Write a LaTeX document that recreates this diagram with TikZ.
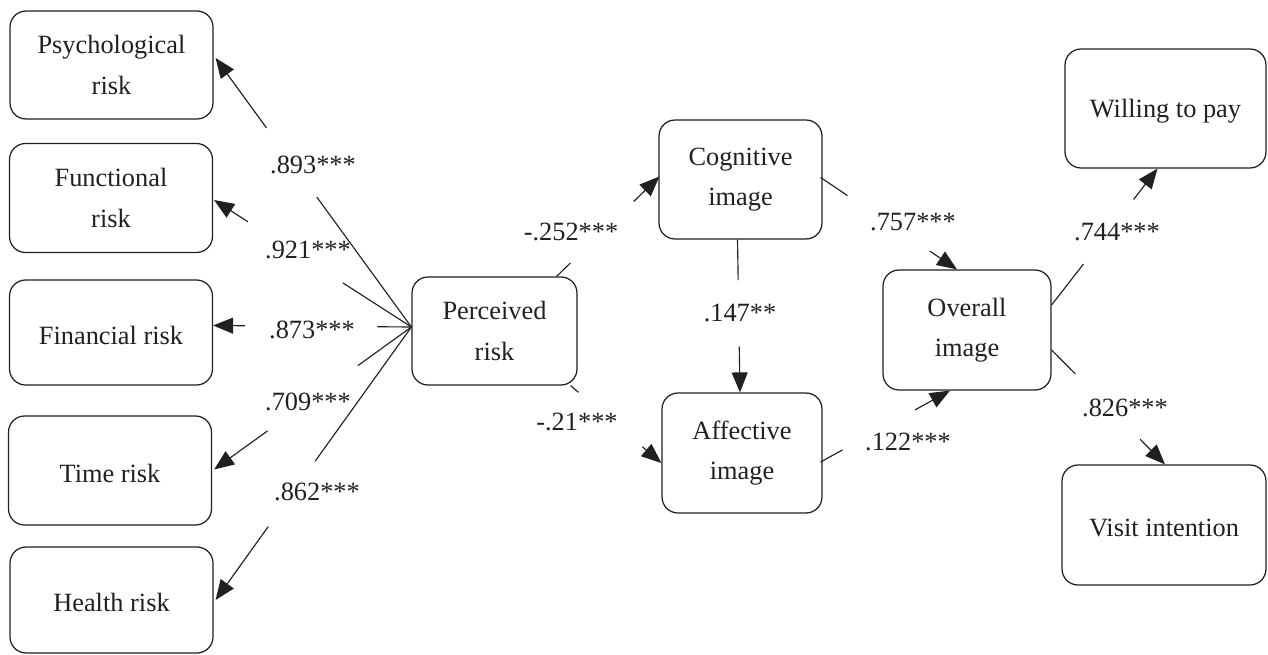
\documentclass[tikz,border=0pt]{standalone}
\usepackage{fontspec}
\setmainfont{Liberation Serif}
\usetikzlibrary{arrows.meta,calc}
\definecolor{ink}{RGB}{35,31,32}

% draws a path from #1 to #2 that is interrupted between fractions #3 and #4
\newcommand\gaplink[4]{%
  \draw[link] (#1) -- ($(#1)!#3!(#2)$);
  \draw[link,-{Triangle[length=0.4cm,width=0.32cm]}] ($(#1)!#4!(#2)$) -- (#2);
}

\begin{document}
\begin{tikzpicture}[
  x=0.02cm, y=-0.02cm,
  every node/.style={font=\fontsize{15}{23}\selectfont, text=ink},
  box/.style={draw=ink, line width=0.7pt, rounded corners=0.32cm,
              align=center, inner sep=0pt,
              execute at begin node={\rule{0pt}{13.6pt}}},
  link/.style={draw=ink, line width=0.65pt},
  coef/.style={inner sep=0pt}
]
\useasboundingbox (0,0) rectangle (1268,655);

% measurement side
\node[box, minimum width=4.06cm, minimum height=2.16cm] (psy) at (111.5,65)  {Psychological\\risk};
\node[box, minimum width=4.06cm, minimum height=2.18cm] (fun) at (111,198)   {Functional\\risk};
\node[box, minimum width=4.06cm, minimum height=2.10cm] (fin) at (111,332.5) {Financial risk};
\node[box, minimum width=4.06cm, minimum height=2.18cm] (tim) at (110,470.5) {Time risk};
\node[box, minimum width=4.06cm, minimum height=2.12cm] (hea) at (111.5,600) {Health risk};

% structural model
\node[box, minimum width=3.30cm, minimum height=2.16cm] (perc) at (494.5,331) {Perceived\\risk};
\node[box, minimum width=3.26cm, minimum height=2.38cm] (cog)  at (740.5,179.5) {Cognitive\\image};
\node[box, minimum width=3.20cm, minimum height=2.40cm] (aff)  at (742,453) {Affective\\image};
\node[box, minimum width=3.36cm, minimum height=2.40cm] (ove)  at (967,330) {Overall\\image};
\node[box, minimum width=4.02cm, minimum height=2.38cm] (wil)  at (1165.5,108.5) {Willing to pay};
\node[box, minimum width=4.08cm, minimum height=2.40cm] (vis)  at (1164,525) {Visit intention};

% connector end points on the box borders
\coordinate (pw)   at ($(perc.west)+(0,-4)$);
\coordinate (psyE) at ($(psy.east)+(2,-7)$);
\coordinate (funE) at ($(fun.east)+(1,2)$);
\coordinate (finE) at ($(fin.east)+(0,-7)$);
\coordinate (timE) at ($(tim.east)+(2,-1)$);
\coordinate (heaE) at ($(hea.east)+(2,0)$);
\coordinate (pNE)  at ($(perc.north east)+(-21,0)$);
\coordinate (pSE)  at ($(perc.south east)+(-7,0)$);
\coordinate (cogW) at ($(cog.west)+(1,-3)$);
\coordinate (affW) at ($(aff.west)+(0,10)$);
\coordinate (cogS) at ($(cog.south)+(-3,0)$);
\coordinate (affN) at ($(aff.north)+(-2,0)$);
\coordinate (cogE) at ($(cog.east)+(-2,-2)$);
\coordinate (oveN) at ($(ove.north)+(-10,0)$);
\coordinate (affE) at ($(aff.east)+(-2,9)$);
\coordinate (oveS) at ($(ove.south)+(-17,0)$);
\coordinate (oveE1) at ($(ove.east)+(0,-25)$);
\coordinate (oveE2) at ($(ove.east)+(0,20)$);
\coordinate (wilS) at ($(wil.south)+(-8,0)$);
\coordinate (visN) at ($(vis.north)+(1,0)$);

% loadings
\gaplink{pw}{psyE}{0.483}{0.740}
\gaplink{pw}{funE}{0.347}{0.829}
\gaplink{pw}{finE}{0.171}{0.839}
\gaplink{pw}{timE}{0.271}{0.729}
\gaplink{pw}{heaE}{0.492}{0.731}

% paths
\gaplink{pNE}{cogW}{0.135}{0.750}
\gaplink{pSE}{affW}{0.087}{0.790}
\gaplink{cogS}{affN}{0.266}{0.700}
\gaplink{cogE}{oveN}{0.197}{0.800}
\gaplink{affE}{oveS}{0.169}{0.730}
\gaplink{oveE1}{wilS}{0.300}{0.774}
\gaplink{oveE2}{visN}{0.210}{0.780}

% coefficients
\node[coef] (l1)  at (313,165) {.893***};
\node[coef] (l2)  at (308,250) {.921***};
\node[coef] (l3)  at (312,330) {.873***};
\node[coef] (l4)  at (308,402) {.709***};
\node[coef] (l5)  at (317,492) {.862***};
\node[coef] (l6)  at (571,232) {-.252***};
\node[coef] (l7)  at (577,422) {-.21***};
\node[coef] (l8)  at (740,313) {.147**};
\node[coef] (l9)  at (913,222) {.757***};
\node[coef] (l10) at (908,442) {.122***};
\node[coef] (l11) at (1117,232) {.744***};
\node[coef] (l12) at (1125,408) {.826***};
\end{tikzpicture}
\end{document}
